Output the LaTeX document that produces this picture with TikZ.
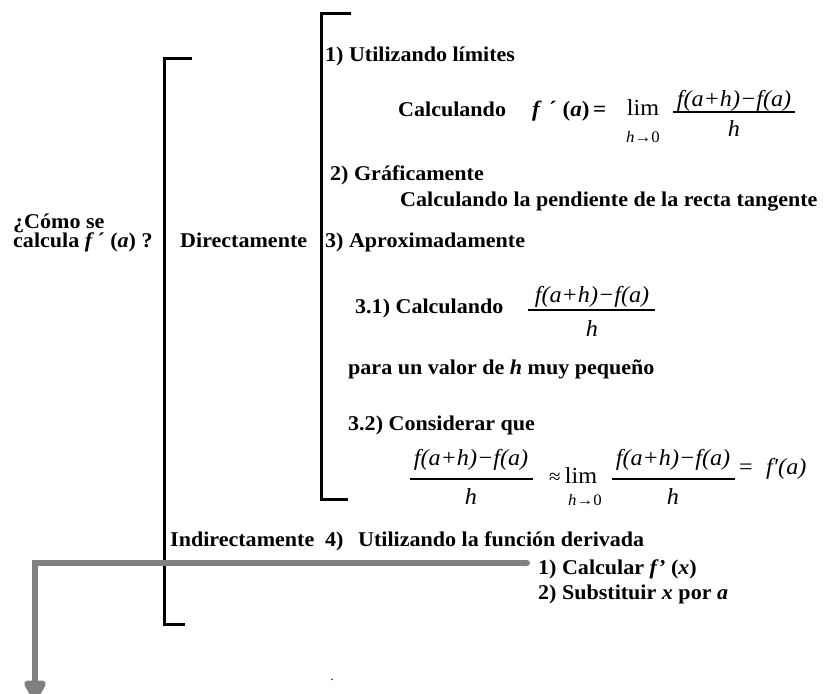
\documentclass[tikz,border=0pt]{standalone}
\usepackage{fontspec}
\setmainfont{Liberation Serif}[FakeStretch=1.05]
\usetikzlibrary{arrows.meta}
\begin{document}
\begin{tikzpicture}[x=1pt,y=-1pt,
  txt/.style={anchor=base west, inner sep=0pt, font=\fontsize{21}{20}\selectfont\bfseries},
  fml/.style={anchor=base, inner sep=0pt, font=\fontsize{23}{24}\selectfont\itshape},
  upr/.style={anchor=base, inner sep=0pt, font=\fontsize{23}{24}\selectfont},
  subs/.style={anchor=base, inner sep=0pt, font=\fontsize{16}{17}\selectfont},
  brk/.style={line width=3pt, line cap=butt, line join=miter},
  fracbar/.style={line width=2pt},
  grayline/.style={line width=6pt, draw=gray, line join=miter}]
\useasboundingbox (0,0) rectangle (826,693);

% brackets
\draw[brk] (192,58) -- (164,58) -- (164,624) -- (185,624);
\draw[brk] (351,14) -- (321,14) -- (321,499) -- (348,499);

% left question
\node[txt] (q1) at (13,228) {¿Cómo se};
\node[txt] (q2) at (13,247) {calcula \textit{f}\,´ (\textit{a}) ?};
\node[txt] (dir) at (180,247) {Directamente};

% 1)
\node[txt] (s1) at (325,62) {1) Utilizando límites};
\node[txt] (calc1) at (398,116) {Calculando};
\node[txt, font=\fontsize{22}{22}\selectfont\bfseries] (fa) at (532,116) {\textit{f}\,\,´ (\textit{a})\,=};
\node[upr] (lim1) at (643,115) {lim};
\node[subs] (lim1s) at (643,142) {\textit{h}→0};
\node[fml] (num1) at (734,106) {f(a+h)−f(a)};
\coordinate (b1l) at (673,111.5);
\coordinate (b1r) at (795,111.5);
\draw[fracbar] (b1l) -- (b1r);
\node[fml] (den1) at (734,136) {h};

% 2)
\node[txt] (s2) at (330,180) {2) Gráficamente};
\node[txt] (s2b) at (400,206) {Calculando la pendiente de la recta tangente};

% 3)
\node[txt] (s3) at (325,247) {3) Aproximadamente};
\node[txt] (s31) at (355,313) {3.1) Calculando};
\node[fml] (num2) at (592,302) {f(a+h)−f(a)};
\coordinate (b2l) at (528,310);
\coordinate (b2r) at (655,310);
\draw[fracbar] (b2l) -- (b2r);
\node[fml] (den2) at (592,336) {h};
\node[txt] (s31b) at (348,374) {para un valor de \textit{h} muy pequeño};
\node[txt] (s32) at (348,430) {3.2) Considerar que};

\node[fml] (num3) at (471,465) {f(a+h)−f(a)};
\coordinate (b3l) at (410,479);
\coordinate (b3r) at (533,479);
\draw[fracbar] (b3l) -- (b3r);
\node[fml] (den3) at (471,504) {h};
\node[subs, font=\fontsize{20}{20}\selectfont] (approx) at (555,483) {≈};
\node[upr] (lim2) at (581,483) {lim};
\node[subs] (lim2s) at (585,505) {\textit{h}→0};
\node[fml] (num4) at (673,465) {f(a+h)−f(a)};
\coordinate (b4l) at (612,479);
\coordinate (b4r) at (735,479);
\draw[fracbar] (b4l) -- (b4r);
\node[fml] (den4) at (673,504) {h};
\node[upr] (eq4) at (746,474) {=};
\node[fml, anchor=base west] (fp4) at (766,474) {f′(a)};

% 4)
\node[txt] (ind) at (170,546) {Indirectamente};
\node[txt] (s4) at (325,546) {4)};
\node[txt] (s4b) at (358,546) {Utilizando la función derivada};
\node[txt] (c1) at (538,574) {1) Calcular \textit{f’} (\textit{x})};
\node[txt] (c2) at (538,599) {2) Substituir \textit{x} por \textit{a}};

% gray arrow
\coordinate (gstart) at (530,563);
\coordinate (gcorner) at (35,563);
\coordinate (gend) at (35,701);
\draw[grayline, {Round Cap[]}-{Triangle[width=24pt,length=24pt,round]}] (gstart) -- (gcorner) -- (gend);

% stray dot
\node[subs, font=\fontsize{13}{13}\selectfont] (dot) at (332,680) {.};
\end{tikzpicture}
\end{document}
